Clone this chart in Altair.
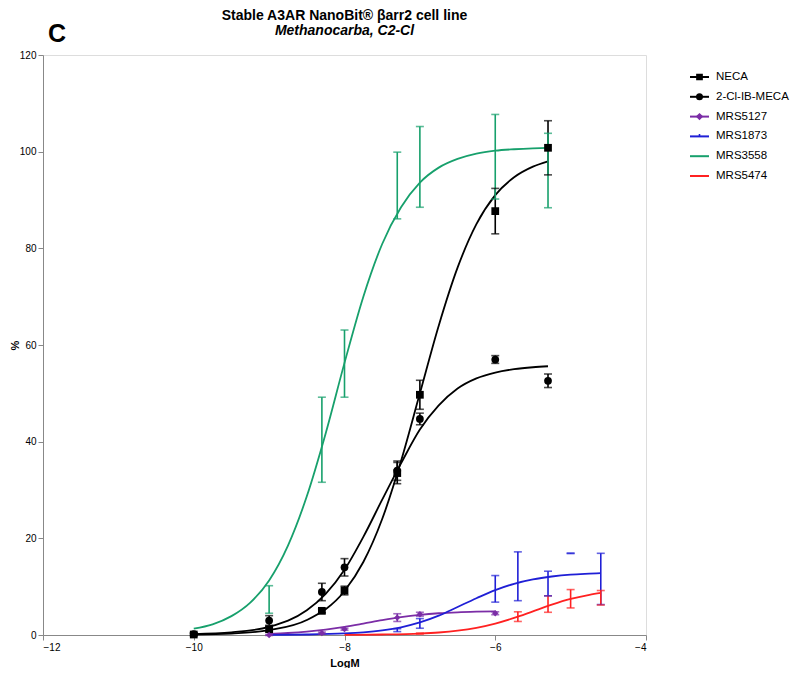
import altair as alt
import pandas as pd

# ---------------- data ----------------
names = ["NECA", "2-Cl-IB-MECA", "MRS5127", "MRS1873", "MRS3558", "MRS5474"]
colors = ["#000000", "#000000", "#7B2DA6", "#1F1FD6", "#17A06C", "#FF2121"]

# measured points (mean, SEM)
neca_x = [-10, -9, -8.3, -8, -7.3, -7, -6, -5.3]
neca_y = [0.1, 1.2, 5.0, 9.2, 33.5, 49.7, 87.7, 100.8]
neca_e = [0.3, 0.5, 0.4, 0.9, 2.2, 3.0, 4.7, 5.6]

meca_x = [-10, -9, -8.3, -8, -7.3, -7, -6, -5.3]
meca_y = [0.2, 3.0, 8.9, 14.0, 34.0, 44.7, 57.0, 52.6]
meca_e = [0.2, 1.0, 1.8, 1.8, 2.0, 1.2, 0.8, 1.4]

m5127_x = [-9, -8.3, -8, -7.3, -7, -6]
m5127_y = [0.0, 0.4, 1.2, 3.6, 4.3, 4.5]
m5127_e = [0.1, 0.2, 0.2, 0.8, 0.4, 0.3]

m1873_x = [-7.3, -7, -6, -5.7, -5.3, -5, -4.6]
m1873_y = [1.0, 2.4, 9.55, 12.15, 10.65, 16.9, 11.6]
m1873_e = [0.3, 1.0, 2.75, 5.05, 2.55, 0.05, 5.3]

m3558_x = [-9, -8.3, -8, -7.3, -7, -6, -5.3]
m3558_y = [7.35, 40.4, 56.15, 93.0, 96.85, 98.95, 96.1]
m3558_e = [2.85, 8.8, 6.95, 6.9, 8.35, 8.75, 7.7]

m5474_x = [-7, -5.7, -5.3, -5, -4.6]
m5474_y = [0.3, 3.8, 6.4, 7.5, 7.7]
m5474_e = [0.1, 1.0, 1.7, 1.9, 1.5]

# fitted curves
neca_cx = [-10, -9.5, -9, -8.5, -8, -7.75, -7.5, -7.25, -7, -6.75, -6.5, -6.25, -6, -5.75, -5.5, -5.3]
neca_cy = [0.1, 0.3, 1.0, 3.1, 9.1, 15.1, 24.0, 36.0, 50.0, 64.0, 76.0, 85.0, 91.0, 94.7, 96.9, 98.0]

meca_cx = [-10, -9.5, -9, -8.5, -8.25, -8, -7.75, -7.5, -7.25, -7, -6.75, -6.5, -6.25, -6, -5.75, -5.5, -5.3]
meca_cy = [0.2, 0.55, 1.7, 5.1, 8.5, 13.5, 20.3, 28.0, 35.5, 42.5, 47.5, 51.0, 53.1, 54.3, 55.0, 55.4, 55.6]

m5127_cx = [-9, -8.75, -8.5, -8.25, -8, -7.75, -7.5, -7.25, -7, -6.75, -6.5, -6.25, -6]
m5127_cy = [0.24, 0.41, 0.68, 1.1, 1.67, 2.35, 3.06, 3.69, 4.17, 4.5, 4.7, 4.82, 4.9]

m1873_cx = [-9, -8.5, -8, -7.75, -7.5, -7.25, -7, -6.75, -6.5, -6.25, -6, -5.75, -5.5, -5.25, -5, -4.75, -4.6]
m1873_cy = [0.03, 0.1, 0.32, 0.56, 0.96, 1.6, 2.6, 4.0, 5.8, 7.6, 9.3, 10.6, 11.5, 12.1, 12.5, 12.7, 12.8]

m3558_cx = [-10, -9.75, -9.5, -9.25, -9, -8.75, -8.5, -8.25, -8, -7.75, -7.5, -7.25, -7, -6.75, -6.5, -6.25, -6, -5.75, -5.5, -5.3]
m3558_cy = [1.3, 2.2, 3.9, 6.7, 11.3, 18.5, 28.7, 41.7, 56.3, 70.0, 80.9, 88.5, 93.6, 96.7, 98.5, 99.6, 100.2, 100.5, 100.7, 100.8]

m5474_cx = [-8, -7.5, -7, -6.75, -6.5, -6.25, -6, -5.75, -5.5, -5.25, -5, -4.75, -4.6]
m5474_cy = [0.03, 0.1, 0.3, 0.52, 0.89, 1.48, 2.36, 3.53, 4.9, 6.27, 7.45, 8.32, 8.7]

x_ticks = [-12, -10, -8, -6, -4]
y_ticks = [0, 20, 40, 60, 80, 100, 120]

title_line = "Stable A3AR NanoBit® βarr2 cell line"
subtitle_line = "Methanocarba, C2-Cl"
panel_letter = "C"

# legend marker glyphs (unit box -1..1)
marker_paths = [
    "M-0.85,-0.85H0.85V0.85H-0.85Z",
    "M0.9,0A0.9,0.9,0,1,1,-0.9,0A0.9,0.9,0,1,1,0.9,0Z",
    "M0,-0.85L0.85,0L0,0.85L-0.85,0Z",
    "M0,0V-0.8",
    "M0,0",
    "M0,0",
]

# ---------------- tables ----------------
pts_src = [(neca_x, neca_y, neca_e), (meca_x, meca_y, meca_e), (m5127_x, m5127_y, m5127_e),
           (m1873_x, m1873_y, m1873_e), (m3558_x, m3558_y, m3558_e), (m5474_x, m5474_y, m5474_e)]
crv_src = [(neca_cx, neca_cy), (meca_cx, meca_cy), (m5127_cx, m5127_cy),
           (m1873_cx, m1873_cy), (m3558_cx, m3558_cy), (m5474_cx, m5474_cy)]

pts = pd.concat([pd.DataFrame({"x": xs, "y": ys, "err": es, "series": n})
                 for n, (xs, ys, es) in zip(names, pts_src)], ignore_index=True)
pts["lo"] = pts["y"] - pts["err"]
pts["hi"] = pts["y"] + pts["err"]
crv = pd.concat([pd.DataFrame({"x": xs, "y": ys, "series": n})
                 for n, (xs, ys) in zip(names, crv_src)], ignore_index=True)
leg_df = pd.DataFrame({"series": names})

FONT = "Liberation Sans"
cscale = alt.Scale(domain=names, range=colors)

xenc = alt.X("x:Q", scale=alt.Scale(domain=[-12, -4], nice=False, zero=False),
             axis=alt.Axis(values=x_ticks, format="d", title="LogM", titlePadding=5, grid=False))
yenc = alt.Y("y:Q", scale=alt.Scale(domain=[0, 120], nice=False),
             axis=alt.Axis(values=y_ticks, format="d", title="%", titlePadding=-1, grid=False))
col = alt.Color("series:N", scale=cscale, legend=None)

curves = alt.Chart(crv).mark_line(strokeWidth=1.8, interpolate="monotone").encode(
    x=xenc, y=yenc, color=col, detail="series:N")

ebase = alt.Chart(pts)
bars = ebase.mark_rule(strokeWidth=1.6).encode(x="x:Q", y="lo:Q", y2="hi:Q", color=col)
cap_hi = ebase.mark_tick(orient="horizontal", size=8, thickness=1.6).encode(x="x:Q", y="hi:Q", color=col)
cap_lo = ebase.mark_tick(orient="horizontal", size=8, thickness=1.6).encode(x="x:Q", y="lo:Q", color=col)

squares = ebase.transform_filter(alt.datum.series == "NECA").mark_square(size=60, opacity=1, color="black").encode(
    x="x:Q", y="y:Q")
circles = ebase.transform_filter(alt.datum.series == "2-Cl-IB-MECA").mark_circle(size=60, opacity=1, color="black").encode(
    x="x:Q", y="y:Q")
diamonds = ebase.transform_filter(alt.datum.series == "MRS5127").mark_point(
    shape="diamond", filled=True, size=40, opacity=1, color=colors[2]).encode(x="x:Q", y="y:Q")

panel = alt.Chart(pd.DataFrame({"t": [panel_letter]})).mark_text(
    font=FONT, fontSize=25, fontWeight="bold", color="black", align="center", baseline="middle"
).encode(text="t:N", x=alt.value(14), y=alt.value(-21))

title1 = alt.Chart(pd.DataFrame({"t": [title_line]})).mark_text(
    font=FONT, fontSize=14, fontWeight="bold", color="black", align="center", baseline="alphabetic"
).encode(text="t:N", x=alt.value(301.5), y=alt.value(-35))
title2 = alt.Chart(pd.DataFrame({"t": [subtitle_line]})).mark_text(
    font=FONT, fontSize=14, fontWeight="bold", fontStyle="italic", color="black",
    align="center", baseline="alphabetic"
).encode(text="t:N", x=alt.value(301.5), y=alt.value(-20))

main = alt.layer(curves, bars, cap_hi, cap_lo, squares, circles, diamonds, panel, title1, title2)

# ---------------- legend (drawn with marks, rows placed by a point scale) ----------------
ly = alt.Y("series:N", scale=alt.Scale(type="point", domain=names, range=[22, 121], padding=0), axis=None)
leg_line = alt.Chart(leg_df).mark_rule(strokeWidth=2).encode(
    x=alt.value(647), x2=alt.value(666), y=ly, color=col)
leg_mark = alt.Chart(leg_df).mark_point(filled=True, size=36, strokeWidth=1.6, opacity=1).encode(
    x=alt.value(656.5), y=ly,
    fill=alt.Fill("series:N", scale=cscale, legend=None),
    stroke=alt.Stroke("series:N", scale=cscale, legend=None),
    shape=alt.Shape("series:N", scale=alt.Scale(domain=names, range=marker_paths), legend=None))
leg_text = alt.Chart(leg_df).mark_text(
    font=FONT, fontSize=11.5, color="black", align="left", baseline="middle").encode(
    x=alt.value(673), y=ly, text="series:N")
legend = alt.layer(leg_line, leg_mark, leg_text)

chart = alt.layer(main, legend).resolve_scale(y="independent").properties(
    width=603, height=580,
    autosize=alt.AutoSizeParams(type="none"),
    padding={"left": 35, "top": 47, "right": 146, "bottom": 33},
).configure_view(stroke=None).configure_axis(
    domainColor="black", domainWidth=2, tickColor="black", tickWidth=2, tickSize=5,
    labelFont=FONT, labelFontSize=11, labelFontWeight="bold", labelColor="black", labelPadding=2,
    titleFont=FONT, titleFontSize=13, titleFontWeight="bold", titleColor="black", grid=False,
).configure(background="white")

chart.save("out.html", embed_options={"renderer": "svg", "actions": False})
